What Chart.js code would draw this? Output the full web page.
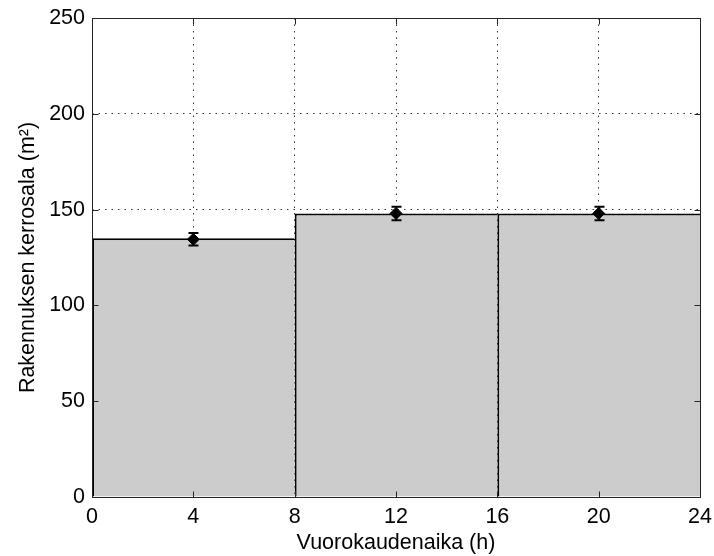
<!DOCTYPE html>
<html>
<head>
<meta charset="utf-8">
<script src="https://cdn.jsdelivr.net/npm/chart.js@4.4.1/dist/chart.umd.min.js"></script>
<style>
html, body { margin: 0; padding: 0; background: #fff; }
</style>
</head>
<body>
<canvas id="chart" width="714" height="556"></canvas>
<script>
// kolme 8 tunnin jaksoa
const hours = [4, 12, 20];
const floorArea = [135, 148, 148];
const meanArea = [134.5, 148, 148];
const errArea = [3.3, 3.5, 3.5];
const xTicks = [0, 4, 8, 12, 16, 20, 24];
const yTicks = [0, 50, 100, 150, 200, 250];

const FONT = { family: '"Liberation Sans", Arial, sans-serif', size: 21.5 };
const TICK_LEN = 6;

// virhepalkit, kehys ja sisäänpäin osoittavat tikit
const framePlugin = {
    id: 'frame',
    afterDatasetsDraw(chart) {
        const { ctx, chartArea: a, scales: { x, y } } = chart;
        ctx.save();
        ctx.strokeStyle = '#000';
        hours.forEach((h, i) => {
            const px = Math.round(x.getPixelForValue(h)) + 0.5;
            const top = y.getPixelForValue(meanArea[i] + errArea[i]);
            const bot = y.getPixelForValue(meanArea[i] - errArea[i]);
            ctx.lineWidth = 1.5;
            ctx.beginPath();
            ctx.moveTo(px, top);
            ctx.lineTo(px, bot);
            ctx.stroke();
            ctx.lineWidth = 2;
            ctx.beginPath();
            ctx.moveTo(px - 5, top);
            ctx.lineTo(px + 5, top);
            ctx.moveTo(px - 5, bot);
            ctx.lineTo(px + 5, bot);
            ctx.stroke();
        });

        const l = Math.round(a.left) + 0.5, r = Math.round(a.right) + 0.5;
        const t = Math.round(a.top) + 0.5, b = Math.round(a.bottom) + 0.5;
        ctx.strokeStyle = '#262626';
        ctx.lineWidth = 1;
        ctx.strokeRect(l, t, r - l, b - t);
        ctx.beginPath();
        xTicks.forEach(v => {
            const px = Math.round(x.getPixelForValue(v)) + 0.5;
            ctx.moveTo(px, b); ctx.lineTo(px, b - TICK_LEN);
            ctx.moveTo(px, t); ctx.lineTo(px, t + TICK_LEN);
        });
        yTicks.forEach(v => {
            const py = Math.round(y.getPixelForValue(v)) + 0.5;
            ctx.moveTo(l, py); ctx.lineTo(l + TICK_LEN, py);
            ctx.moveTo(r, py); ctx.lineTo(r - TICK_LEN, py);
        });
        ctx.stroke();
        ctx.restore();
    }
};

const ctx = document.getElementById('chart').getContext('2d');
new Chart(ctx, {
    type: 'bar',
    data: {
        datasets: [
            {
                type: 'scatter',
                data: hours.map((h, i) => ({ x: h, y: meanArea[i] })),
                pointStyle: 'rectRot',
                pointRadius: 6,
                backgroundColor: '#000',
                borderColor: '#000',
                borderWidth: 1,
                order: 0
            },
            {
                type: 'bar',
                data: hours.map((h, i) => ({ x: h, y: floorArea[i] })),
                backgroundColor: '#cccccc',
                borderColor: '#000',
                // vierekkäiset palkit: vain vasen ja ylä reuna, ettei rajaviiva tuplaannu
                borderWidth: { top: 2, left: 2, right: 0, bottom: 0 },
                borderSkipped: false,
                // pienin väli lasketaan 4 h tikkiväleistä, palkki kattaa 8 h
                barPercentage: 1,
                categoryPercentage: 2,
                order: 1
            }
        ]
    },
    options: {
        responsive: false,
        animation: false,
        layout: { padding: { top: 18, right: 14, left: 0, bottom: 0 } },
        plugins: { legend: { display: false }, tooltip: { enabled: false } },
        scales: {
            x: {
                type: 'linear',
                offset: false,
                min: 0,
                max: 24,
                afterBuildTicks: s => { s.ticks = xTicks.map(v => ({ value: v })); },
                afterFit: s => { s.height = 59; s.paddingRight = 0; s.paddingLeft = 0; },
                grid: { color: '#333', lineWidth: 1, drawTicks: false, offset: false },
                border: { display: false, dash: [1.5, 5] },
                ticks: { color: '#000', font: FONT, padding: 7, maxRotation: 0 },
                title: { display: true, text: 'Vuorokaudenaika (h)', color: '#000', font: FONT, padding: { top: 0, bottom: 0 } }
            },
            y: {
                min: 0,
                max: 250,
                afterBuildTicks: s => { s.ticks = yTicks.map(v => ({ value: v })); },
                afterFit: s => { s.width = 92; s.paddingTop = 0; s.paddingBottom = 0; },
                grid: { color: '#333', lineWidth: 1, drawTicks: false },
                border: { display: false, dash: [1.5, 5] },
                ticks: { color: '#000', font: FONT, padding: 7 },
                title: { display: true, text: 'Rakennuksen kerrosala (m²)', color: '#000', font: FONT, padding: { top: 15, bottom: 0 } }
            }
        }
    },
    plugins: [framePlugin]
});
</script>
</body>
</html>
